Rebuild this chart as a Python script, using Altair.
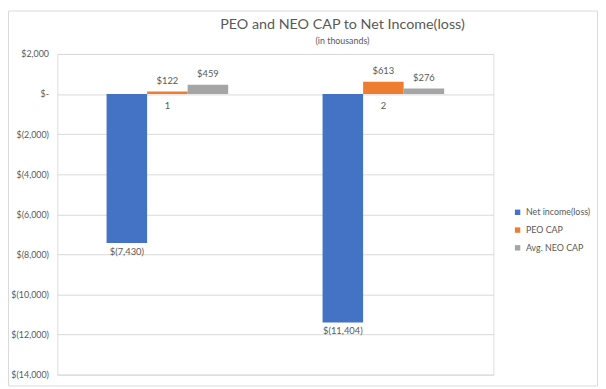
import altair as alt
import pandas as pd

categories = ["1", "2"]
series = ["Net income(loss)", "PEO CAP", "Avg. NEO CAP"]
net_income = [-7430, -11404]
peo_cap = [122, 613]
avg_neo_cap = [459, 276]
colors = ["#4472C4", "#ED7D31", "#A5A5A5"]
y_ticks = list(range(-14000, 2001, 2000))
title_text = "PEO and NEO CAP to Net Income(loss)"
subtitle_text = "(in thousands)"

rows = []
for i, c in enumerate(categories):
    for s, vals in zip(series, [net_income, peo_cap, avg_neo_cap]):
        rows.append({"cat": c, "series": s, "value": vals[i]})
df = pd.DataFrame(rows)
cat_df = pd.DataFrame({"cat": categories, "value": [0] * len(categories)})

fmt = ("datum.value == 0 ? '$-' : (datum.value < 0 ? '$(' + format(-datum.value, ',') + ')' "
       ": '$' + format(datum.value, ','))")

FONT = "Lato"
TXT = "#595959"

x = alt.X("cat:N", sort=categories, axis=None,
          scale=alt.Scale(paddingInner=0.437, paddingOuter=0.228))
y = alt.Y("value:Q", scale=alt.Scale(domain=[-14000, 2000], nice=False),
          axis=alt.Axis(values=y_ticks, labelExpr=fmt, title=None, ticks=False, domain=False,
                        gridColor="#D9D9D9", labelColor=TXT, labelFontSize=9, labelFont=FONT,
                        labelPadding=9))
xo = alt.XOffset("series:N", sort=series)

base = alt.Chart(df)
bars = base.mark_bar().encode(
    x=x, y=y, xOffset=xo,
    color=alt.Color("series:N", sort=series, scale=alt.Scale(domain=series, range=colors),
                    legend=alt.Legend(title=None, orient="none", legendX=462, legendY=156,
                                      symbolType="square", symbolSize=30, labelFont=FONT,
                                      labelFontSize=9, labelColor=TXT, rowPadding=8,
                                      symbolStrokeWidth=0, labelOffset=4)))

lab = base.transform_calculate(
    label="datum.value < 0 ? '$(' + format(-datum.value, ',') + ')' : '$' + format(datum.value, ',')")
pos = lab.transform_filter("datum.value >= 0").mark_text(
    baseline="bottom", dy=-6, font=FONT, fontSize=9.5, color=TXT).encode(
    x=x, y="value:Q", xOffset=xo, text="label:N")
neg = lab.transform_filter("datum.value < 0").mark_text(
    baseline="top", dy=4, font=FONT, fontSize=9.5, color=TXT).encode(
    x=x, y="value:Q", xOffset=xo, text="label:N")

cats = alt.Chart(cat_df).mark_text(baseline="top", dy=7, font=FONT, fontSize=9.5, color=TXT).encode(
    x=alt.X("cat:N", sort=categories), y="value:Q", text="cat:N")

tdf = pd.DataFrame({"t": [title_text], "s": [subtitle_text]})
title = alt.Chart(tdf).mark_text(font=FONT, fontSize=14.5, color=TXT, baseline="middle").encode(
    x=alt.value(289), y=alt.value(-29), text="t:N")
subtitle = alt.Chart(tdf).mark_text(font=FONT, fontSize=9, color=TXT, baseline="middle").encode(
    x=alt.value(289), y=alt.value(-13), text="s:N")

border = alt.Chart(pd.DataFrame({"a": [0]})).mark_rect(
    fill="transparent", stroke="#D9D9D9", strokeWidth=1).encode(
    x=alt.value(-49.5), x2=alt.value(547.5), y=alt.value(-43.5), y2=alt.value(336.5))

chart = alt.layer(border, bars, pos, neg, cats, title, subtitle).properties(
    width=442, height=325,
    autosize=alt.AutoSizeParams(type="none"),
    padding={"left": 50, "top": 44, "right": 106, "bottom": 12},
).configure_view(stroke=None).configure(background="white")

chart.save("out.html", embed_options={"renderer": "svg", "actions": False})
